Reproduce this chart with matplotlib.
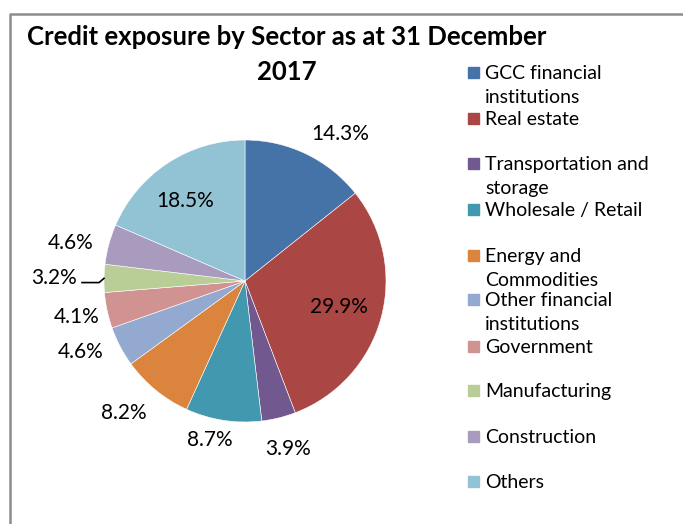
import matplotlib
matplotlib.use("Agg")
import numpy as np
import matplotlib.pyplot as plt
from matplotlib.patches import Rectangle
from matplotlib.lines import Line2D

plt.rcParams['font.family'] = ['Lato', 'DejaVu Sans']

# credit exposure shares (%), clockwise from 12 o'clock
sectors = ["GCC financial\ninstitutions", "Real estate", "Transportation and\nstorage",
           "Wholesale / Retail", "Energy and\nCommodities", "Other financial\ninstitutions",
           "Government", "Manufacturing", "Construction", "Others"]
shares = [14.3, 29.9, 3.9, 8.7, 8.2, 4.6, 4.1, 3.2, 4.6, 18.5]
colors = ["#4572A7", "#AA4643", "#71588F", "#4198AF", "#DB843D",
          "#93A9CF", "#D19392", "#B9CD96", "#A99BBD", "#92C3D4"]

# where each percentage sits: distance (1.0 = pie edge) and angular nudge in degrees
label_dist = [1.243, 0.69, 1.23, 1.155, 1.27, 1.27, 1.218, 1.358, 1.267, 0.71]
label_turn = [-7.3, -0.3, 0.5, -3.6, -3.4, -4.3, 0.0, 0.2, 2.8, 3.2]

W, H = 683, 524
fig = plt.figure(figsize=(W / 100, H / 100), dpi=100)

# pie axes: centre (245, 281), radius 141 px
cx, cy, R = 245, 281, 141
ax = fig.add_axes([(cx - R) / W, (H - cy - R) / H, 2 * R / W, 2 * R / H])
wedges, _ = ax.pie(shares, colors=colors, startangle=90, counterclock=False,
                   radius=1, wedgeprops=dict(edgecolor='white', linewidth=0.4))
ax.set_xlim(-1, 1)
ax.set_ylim(-1, 1)
ax.axis('off')

for w, v, k, t in zip(wedges, shares, label_dist, label_turn):
    mid = np.deg2rad((w.theta1 + w.theta2) / 2 + t)
    ax.text(k * np.cos(mid), k * np.sin(mid), f"{v:.1f}%", fontsize=15,
            ha='center', va='center', clip_on=False)

# leader line for the small manufacturing slice
w = wedges[7]
mid = np.deg2rad((w.theta1 + w.theta2) / 2)
ex, ey = np.cos(mid), np.sin(mid)
ax.add_line(Line2D([-1.156, -1.035, ex], [ey - 0.03, ey - 0.03, ey],
                   color='black', lw=1.2, clip_on=False))

# title
fig.text(287 / W, 1 - 37 / H, "Credit exposure by Sector as at 31 December",
         fontsize=18.5, fontweight='bold', ha='center', va='center')
fig.text(287 / W, 1 - 72 / H, "2017", fontsize=18.5, fontweight='bold',
         ha='center', va='center')

# legend
leg_y = [72, 118, 163, 209, 255, 299, 346, 390, 436, 481]
for name, c, y in zip(sectors, colors, leg_y):
    fig.patches.append(Rectangle((468 / W, 1 - (y + 6) / H), 11 / W, 11 / H,
                                 transform=fig.transFigure, color=c))
    fig.text(485 / W, 1 - (y - 7) / H, name, fontsize=14, ha='left', va='top',
             linespacing=1.52)

# chart area border
fig.add_artist(Line2D([9.5 / W, 9.5 / W, 1.0], [0.0, 1 - 14 / H, 1 - 14 / H],
                      transform=fig.transFigure, color='#8c8c8c', lw=1.8))

fig.savefig("out.png", dpi=100)
